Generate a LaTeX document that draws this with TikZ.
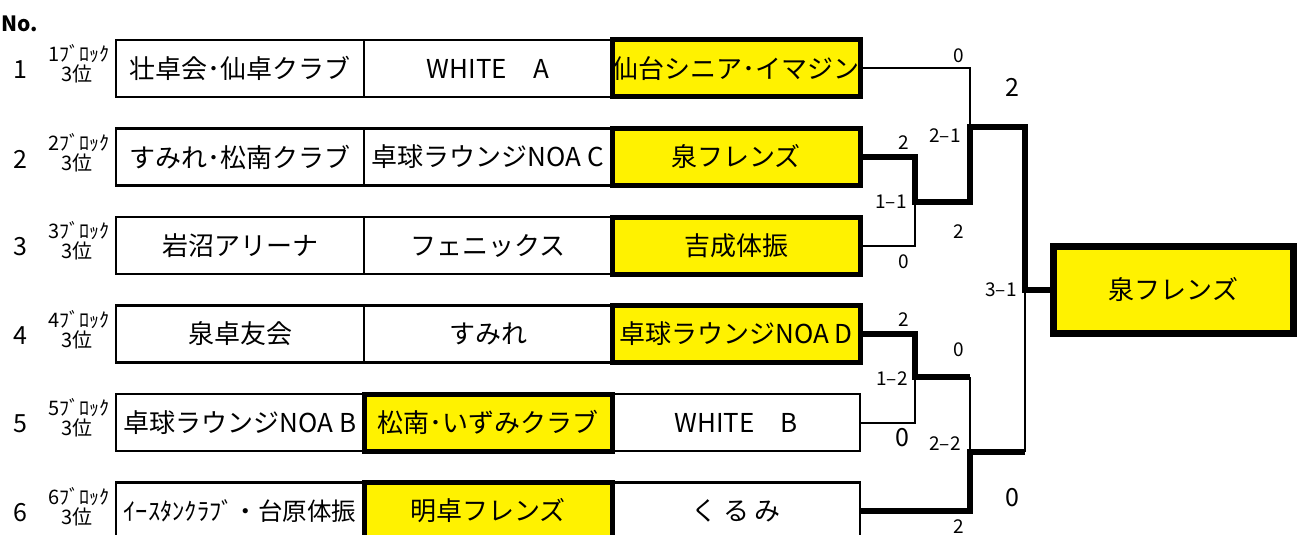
\documentclass[tikz,border=0pt]{standalone}
\usepackage{fontspec}
\setmainfont{Noto Sans CJK JP}
\usetikzlibrary{positioning}

\begin{document}
\begin{tikzpicture}[x=1pt,y=-1pt,
  team/.style = {draw, rectangle, line width=2.5pt, minimum width=248pt, minimum height=57pt, inner sep=0pt, outer sep=0pt, font=\fontsize{26}{30}\selectfont},
  win/.style = {team, fill=yellow, line width=5pt},
  lost/.style = {line width=2pt},
  won/.style = {line width=6pt},
  score/.style = {inner sep=0pt, font=\fontsize{19}{22}\selectfont},
  bigscore/.style = {inner sep=0pt, font=\fontsize{25}{30}\selectfont},
  num/.style = {inner sep=0pt, font=\fontsize{25}{28}\selectfont},
  blk/.style = {inner sep=0pt, font=\fontsize{20}{22}\selectfont},
  node distance=248pt]
\useasboundingbox (0,0) rectangle (1302,535);

% row labels
\node (no) at (20,24) [inner sep=0pt, font=\bfseries\fontsize{21}{24}\selectfont] {No.};
\node[num] (n1) at (20,70) {1};
\node[blk] (k1) at (79,54) {1ﾌﾞﾛｯｸ};
\node[blk] (p1) at (77,74) {3位};
\node[num] (n2) at (20,159) {2};
\node[blk] (k2) at (79,143) {2ﾌﾞﾛｯｸ};
\node[blk] (p2) at (77,163) {3位};
\node[num] (n3) at (20,247) {3};
\node[blk] (k3) at (79,231) {3ﾌﾞﾛｯｸ};
\node[blk] (p3) at (77,251) {3位};
\node[num] (n4) at (20,336) {4};
\node[blk] (k4) at (79,320) {4ﾌﾞﾛｯｸ};
\node[blk] (p4) at (77,340) {3位};
\node[num] (n5) at (20,424) {5};
\node[blk] (k5) at (79,408) {5ﾌﾞﾛｯｸ};
\node[blk] (p5) at (77,428) {3位};
\node[num] (n6) at (20,513) {6};
\node[blk] (k6) at (79,497) {6ﾌﾞﾛｯｸ};
\node[blk] (p6) at (77,517) {3位};

% teams
\node[team] (a1) at (240,68.5) {壮卓会･仙卓クラブ};
\node[team] (b1) [right of=a1] {WHITE　A};
\node[win] (c1) [right of=b1] {仙台シニア･イマジン};
\node[team] (a2) at (240,157) {すみれ･松南クラブ};
\node[team] (b2) [right of=a2] {卓球ラウンジNOA C};
\node[win] (c2) [right of=b2] {泉フレンズ};
\node[team] (a3) at (240,245.5) {岩沼アリーナ};
\node[team] (b3) [right of=a3] {フェニックス};
\node[win] (c3) [right of=b3] {吉成体振};
\node[team] (a4) at (240,334) {泉卓友会};
\node[team] (b4) [right of=a4] {すみれ};
\node[win] (c4) [right of=b4] {卓球ラウンジNOA D};
\node[team] (a5) at (240,422.5) {卓球ラウンジNOA B};
\node[win] (b5) [right of=a5] {松南･いずみクラブ};
\node[team] (c5) [right of=b5] {WHITE　B};
\node[team, font=\fontsize{24.5}{30}\selectfont] (a6) at (240,511) {ｲｰｽﾀﾝｸﾗﾌﾞ・台原体振};
\node[win] (b6) [right of=a6] {明卓フレンズ};
\node[team] (c6) [right of=b6] {く る み};

% final
\node[win, line width=7pt, minimum width=240pt, minimum height=87pt] (fin) at (1173.5,290) {泉フレンズ};

% bracket
\coordinate (q1) at (915,202);
\coordinate (s1) at (970,127);
\coordinate (q2) at (915,377);
\coordinate (s2) at (970,452);
\coordinate (f) at (1025,290);
\draw[lost] (c1.east) -| (s1);
\draw[lost] (c3.east) -| (q1);
\draw[won] (c2.east) -| (q1) -| (s1) -| (f) -- (fin.west);
\draw[lost] (c5.east) -| (q2);
\draw[won] (c4.east) -| (q2) -- (s2 |- q2);
\draw[lost] (s2 |- q2) -- (s2);
\draw[won] (c6.east) -| (s2) -- (f |- s2);
\draw[lost] (f |- s2) -- (f);

% scores
\node[score] at (959,56) {0};
\node[bigscore] at (1012,87) {2};
\node[score] at (904,143) {2};
\node[score] at (945,136) {2–1};
\node[score] at (891,202) {1–1};
\node[score] at (959,232) {2};
\node[score] at (904,262) {0};
\node[score] at (1001,290) {3–1};
\node[score] at (904,320) {2};
\node[score] at (959,350) {0};
\node[score] at (892,379) {1–2};
\node[bigscore] at (902,438) {0};
\node[score] at (945,444) {2–2};
\node[bigscore] at (1012,498) {0};
\node[score] at (959,527) {2};
\end{tikzpicture}
\end{document}
